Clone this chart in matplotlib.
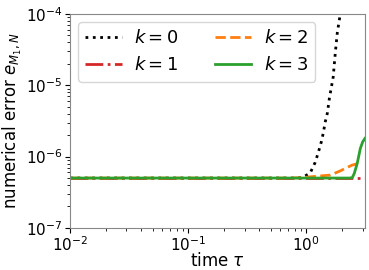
import matplotlib
matplotlib.use("Agg")
import matplotlib.pyplot as plt

tau_k0 = [0.01, 0.1, 0.5, 0.85, 0.95, 1.08, 1.19, 1.26, 1.34, 1.39, 1.45, 1.51, 1.57, 1.69, 1.76, 1.83, 1.94, 2.0]
err_k0 = [5.0e-7, 5.0e-7, 5.0e-7, 5.0e-7, 5.2e-7, 5.9e-7, 8.3e-7, 1.12e-6, 1.6e-6, 2.1e-6, 3.1e-6,
          4.1e-6, 6.6e-6, 1.3e-5, 2.8e-5, 5.4e-5, 1.0e-4, 1.3e-4]

tau_k1 = [0.01, 3.14]
err_k1 = [5.0e-7, 5.0e-7]

tau_k2 = [0.01, 0.7, 0.9, 1.08, 1.3, 1.6, 1.94, 2.2, 2.45, 2.75, 2.9]
err_k2 = [5.0e-7, 5.0e-7, 5.05e-7, 5.2e-7, 5.35e-7, 5.5e-7, 6.3e-7, 7.0e-7, 7.6e-7, 8.0e-7, 8.3e-7]

tau_k3 = [0.01, 2.3, 2.45, 2.55, 2.7, 2.87, 3.0, 3.14]
err_k3 = [5.0e-7, 5.0e-7, 5.05e-7, 5.8e-7, 8.0e-7, 1.3e-6, 1.6e-6, 1.8e-6]

plt.rcParams['font.size'] = 12
fig = plt.figure(figsize=(3.69, 2.70), dpi=100)
ax = fig.add_axes([0.19, 0.156, 0.799, 0.792])

ax.plot(tau_k0, err_k0, ls=':', color='black', lw=2, label=r'$k=0$')
ax.plot(tau_k1, err_k1, ls='-.', color='tab:red', lw=2, label=r'$k=1$')
ax.plot(tau_k2, err_k2, ls='--', color='tab:orange', lw=2, label=r'$k=2$')
ax.plot(tau_k3, err_k3, ls='-', color='tab:green', lw=2, label=r'$k=3$')

ax.set_xscale('log')
ax.set_yscale('log')
ax.set_xlim(1e-2, 3.14)
ax.set_ylim(1e-7, 1e-4)
ax.tick_params(labelsize=11, pad=2)
ax.set_xlabel(r'time $\tau$', labelpad=-1.5)
ax.set_ylabel(r'numerical error $e_{M_1,N}$', labelpad=1)
ax.legend(loc='upper left', ncol=2, fontsize=13, handlelength=2.0,
          handletextpad=0.7, columnspacing=2.0, borderaxespad=0.45)

for s in ax.spines.values():
    s.set_color('#888888')

fig.savefig('out.png', dpi=100)
